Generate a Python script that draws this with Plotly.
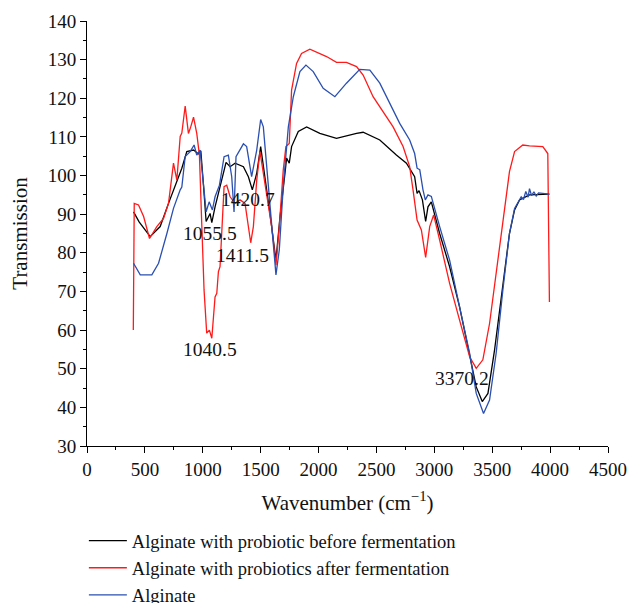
import plotly.graph_objects as go

# Alginate with probiotic before fermentation (black)
wn_black = [402, 450, 546, 632, 704, 776, 819, 862, 920, 963, 983, 1006, 1029, 1063, 1078, 1106, 1149, 1201, 1236, 1279,
            1351, 1394, 1428, 1466, 1500, 1537, 1580, 1632, 1667, 1710, 1724, 1747, 1767, 1825, 1897, 2011, 2098,
            2155, 2328, 2385, 2529, 2672, 2759, 2830, 2851, 2868, 2897, 2925, 2945, 2974, 3046, 3132, 3218, 3305,
            3362, 3414, 3463, 3520, 3592, 3649, 3693, 3736, 3822, 3994]
t_black = [90.6, 88.0, 84.2, 86.8, 92.8, 98.8, 101.9, 106.2, 106.6, 105.6, 106.4, 97.5, 88.1, 90.2, 87.8, 91.9, 97.1,
           103.4, 102.3, 103.2, 102.3, 99.7, 96.3, 100.6, 107.5, 99.7, 90.2, 78.1, 89.3, 100.6, 104.5, 103.2, 107.5,
           111.4, 112.6, 110.9, 110.1, 109.6, 110.9, 111.2, 109.2, 105.3, 103.2, 99.7, 95.4, 96.1, 93.7, 88.1, 91.9,
           93.2, 85.0, 76.4, 66.0, 54.0, 45.3, 41.5, 43.6, 54.8, 72.1, 85.0, 91.1, 93.7, 95.0, 95.2]

# Alginate with probiotics after fermentation (red)
wn_red = [400, 402, 408, 445, 489, 540, 603, 661, 704, 747, 776, 805, 819, 848, 876, 896, 920, 948, 971, 991, 1011,
          1034, 1057, 1078, 1092, 1106, 1121, 1135, 1149, 1164, 1184, 1207, 1236, 1279, 1322, 1365, 1394, 1414, 1437,
          1466, 1494, 1523, 1566, 1595, 1632, 1661, 1695, 1718, 1747, 1767, 1810, 1853, 1925, 1997, 2069, 2155,
          2241, 2328, 2385, 2471, 2557, 2644, 2730, 2787, 2816, 2851, 2888, 2925, 2960, 2994, 3046, 3132, 3218,
          3305, 3362, 3419, 3477, 3534, 3592, 3649, 3693, 3764, 3822, 3937, 3980, 3994]
t_red = [60.0, 92.0, 92.8, 92.4, 89.4, 83.7, 86.8, 88.9, 92.8, 103.2, 98.8, 110.1, 111.0, 118.0, 110.9, 112.6, 115.1,
         110.9, 105.3, 87.6, 70.4, 59.2, 60.0, 57.9, 63.5, 68.6, 69.5, 75.1, 76.4, 85.0, 97.1, 97.5, 94.5, 92.8, 93.7,
         92.8, 86.8, 82.6, 86.8, 98.8, 106.2, 100.6, 91.9, 86.8, 76.8, 86.8, 101.4, 107.5, 108.3, 122.1, 129.0,
         131.6, 132.7, 131.8, 130.8, 129.3, 129.3, 128.2, 126.0, 120.4, 116.5, 112.6, 107.5, 102.3, 96.3, 88.5,
         85.9, 78.8, 86.8, 89.8, 83.3, 72.1, 62.6, 53.1, 50.1, 52.3, 61.7, 74.7, 89.4, 101.0, 106.2, 107.9, 107.7,
         107.5, 105.7, 67.3]

# Alginate (blue)
wn_blue = [402, 460, 560, 618, 690, 747, 805, 819, 848, 891, 925, 948, 977, 1006, 1029, 1055, 1083, 1106, 1144, 1184,
           1221, 1250, 1270, 1287, 1351, 1379, 1422, 1466, 1500, 1523, 1566, 1603, 1632, 1661, 1695, 1739, 1782,
           1839, 1891, 1954, 2040, 2141, 2241, 2356, 2443, 2529, 2615, 2701, 2787, 2830, 2851, 2874, 2902, 2922,
           2945, 2974, 3046, 3132, 3218, 3305, 3362, 3425, 3477, 3534, 3592, 3649, 3693, 3720, 3750, 3770, 3790,
           3810, 3822, 3840, 3860, 3880, 3900, 3994]
t_blue = [77.3, 74.3, 74.3, 77.3, 85.0, 91.5, 96.3, 97.0, 104.9, 106.2, 107.9, 105.3, 106.6, 97.1, 90.6, 93.2, 91.1,
          94.5, 97.5, 104.9, 105.3, 99.7, 90.6, 104.9, 108.2, 107.5, 99.7, 106.6, 114.5, 112.6, 97.1, 83.3, 74.3,
          80.8, 97.1, 112.6, 120.4, 126.9, 128.6, 126.9, 122.6, 120.4, 123.9, 127.5, 127.3, 123.9, 118.7, 113.5,
          109.2, 105.7, 101.9, 101.5, 96.3, 93.7, 95.0, 94.6, 86.8, 78.1, 66.0, 54.0, 43.6, 38.4, 41.9, 54.0, 70.4,
          85.0, 91.5, 92.8, 94.5, 93.8, 95.9, 94.4, 96.6, 94.8, 95.8, 94.7, 95.5, 95.2]

series = [
    ("Alginate with probiotic before fermentation", wn_black, t_black, "#000000"),
    ("Alginate with probiotics after fermentation", wn_red, t_red, "#ff1a1a"),
    ("Alginate", wn_blue, t_blue, "#2a4fb0"),
]

ann_labels = ["1055.5", "1420.7", "1411.5", "1040.5", "3370.2"]
ann_x = [1062, 1391, 1347, 1062, 3239]
ann_y = [85.1, 93.9, 79.4, 54.9, 47.6]

x_ticks = [0, 500, 1000, 1500, 2000, 2500, 3000, 3500, 4000, 4500]
y_ticks = [30, 40, 50, 60, 70, 80, 90, 100, 110, 120, 130, 140]

font_family = "Liberation Serif, Times New Roman, serif"

fig = go.Figure()
for name, xs, ys, col in series:
    fig.add_trace(go.Scatter(x=xs, y=ys, mode="lines", name=name,
                             line=dict(color=col, width=1.3)))

for lab, ax_, ay_ in zip(ann_labels, ann_x, ann_y):
    fig.add_annotation(x=ax_, y=ay_, text=lab, showarrow=False,
                       font=dict(family=font_family, size=19.5, color="#111111"))

fig.update_layout(
    width=629, height=603,
    margin=dict(l=87, r=21, t=21, b=157, autoexpand=False),
    paper_bgcolor="white", plot_bgcolor="white",
    font=dict(family=font_family, size=19, color="#111111"),
    showlegend=True,
    legend=dict(orientation="v", x=-0.006, xanchor="left", xref="paper",
                y=0.134, yanchor="top", yref="container",
                font=dict(family=font_family, size=18.5), tracegroupgap=0,
                itemwidth=38, bgcolor="rgba(0,0,0,0)"),
    xaxis=dict(range=[0, 4500], tickvals=x_ticks, showgrid=False, zeroline=False, automargin=False,
               showline=True, linecolor="black", linewidth=1, ticks="outside", ticklen=6,
               tickcolor="black", minor=dict(dtick=250, ticks="outside", ticklen=3, tickcolor="black"),
               title=dict(text="Wavenumber (cm<sup>−1</sup>)", font=dict(size=21), standoff=16),
               tickfont=dict(size=19)),
    yaxis=dict(range=[30, 140], tickvals=y_ticks, showgrid=False, zeroline=False, automargin=False,
               showline=True, linecolor="black", linewidth=1, ticks="outside", ticklen=6,
               tickcolor="black", minor=dict(dtick=5, ticks="outside", ticklen=3, tickcolor="black"),
               title=dict(text="Transmission", font=dict(size=21), standoff=14),
               tickfont=dict(size=19)),
)

fig.write_html("out.html")
